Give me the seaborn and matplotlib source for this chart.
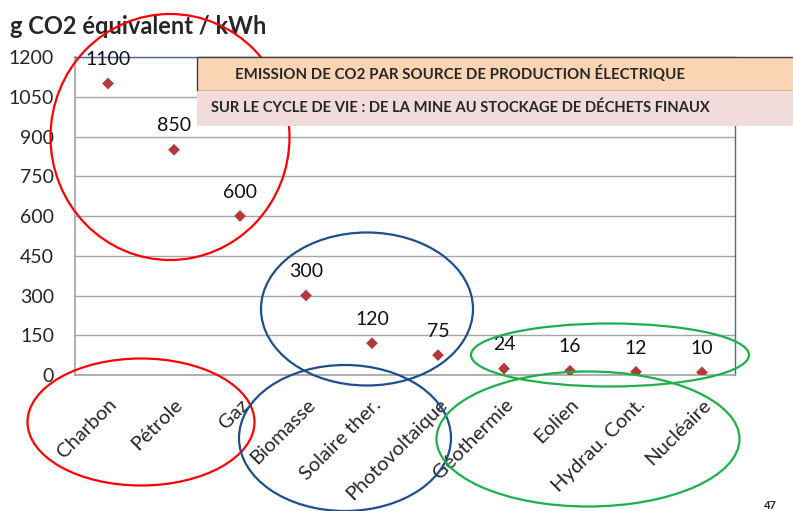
import matplotlib
matplotlib.use('Agg')
import matplotlib.pyplot as plt
from matplotlib.patches import Ellipse, Rectangle
import seaborn as sns
import pandas as pd

# data
sources = ['Charbon', 'Pétrole', 'Gaz', 'Biomasse', 'Solaire ther.', 'Photovoltaique',
           'Géothermie', 'Eolien', 'Hydrau. Cont.', 'Nucléaire']
emissions = [1100, 850, 600, 300, 120, 75, 24, 16, 12, 10]
y_ticks = [0, 150, 300, 450, 600, 750, 900, 1050, 1200]

W, H = 793, 511
sns.set_theme(style='white')
plt.rcParams['font.family'] = ['Lato', 'DejaVu Sans']

fig = plt.figure(figsize=(W / 100, H / 100), dpi=100)
ax = fig.add_axes([75 / W, 1 - 375 / H, 660 / W, 318 / H])

df = pd.DataFrame({'source': sources, 'g': emissions})
df['pos'] = range(len(df))
sns.scatterplot(data=df, x='pos', y='g', marker='D', s=36, color='#B23A3A',
                edgecolor='none', ax=ax, zorder=3)

for x, y in zip(df['pos'], df['g']):
    ax.annotate(str(y), (x, y), xytext=(0, 11), textcoords='offset points',
                ha='center', va='bottom', fontsize=14, color='#111111')

ax.set_xlim(-0.5, len(sources) - 0.5)
ax.set_ylim(0, 1200)
ax.set_yticks(y_ticks)
ax.set_xticks(range(len(sources)))
ax.set_xticks([i - 0.5 for i in range(len(sources) + 1)], minor=True)
ax.set_xticklabels(sources, rotation=45, ha='right', va='top', rotation_mode='anchor', fontsize=14.5)
ax.tick_params(axis='x', which='major', length=0, pad=15)
ax.tick_params(axis='x', which='minor', length=6, color='#A6A6A6', width=1, direction='out')
ax.tick_params(axis='y', length=5, color='#A6A6A6', labelsize=14, pad=10)
ax.yaxis.grid(True, color='#A6A6A6', lw=1)
ax.set_xlabel('')
ax.set_ylabel('')
for s in ['left', 'bottom']:
    ax.spines[s].set_color('#A6A6A6')
for s in ['top', 'right']:
    ax.spines[s].set_color('#4A6A9E')
    ax.spines[s].set_linewidth(1)

def fx(x):
    return x / W

def fy(y):
    return 1 - y / H

fig.text(fx(10), fy(34), 'g CO2 équivalent / kWh', fontsize=17, fontweight='bold',
         ha='left', va='baseline')

# title boxes
fig.add_artist(Rectangle((fx(197), fy(91)), fx(600), 34 / H, transform=fig.transFigure,
                         facecolor='#FBD4B4', edgecolor='#404040', lw=1, zorder=5))
fig.add_artist(Rectangle((fx(197), fy(126)), fx(600), 35 / H, transform=fig.transFigure,
                         facecolor='#F2DCDB', edgecolor='none', zorder=5))
fig.text(fx(460), fy(74), 'EMISSION DE CO2 PAR SOURCE DE PRODUCTION ÉLECTRIQUE', fontsize=10.8,
         fontweight='bold', ha='center', va='center', zorder=6)
fig.text(fx(460), fy(108), 'SUR LE CYCLE DE VIE : DE LA MINE AU STOCKAGE DE DÉCHETS FINAUX',
         fontsize=10.6, fontweight='bold', ha='center', va='center', zorder=6)

# hand-drawn group ellipses (pixel centres, widths, heights)
ellipses = [
    (170, 137, 239, 246, '#FF0000'),
    (141, 422, 227, 127, '#FF0000'),
    (367, 309, 212, 153, '#1F4E8C'),
    (345, 438, 212, 146, '#1F4E8C'),
    (610, 355, 278, 63, '#1DB04A'),
    (588, 439, 303, 135, '#1DB04A'),
]
for cx, cy, w, h, c in ellipses:
    fig.add_artist(Ellipse((cx / 100, (H - cy) / 100), w / 100, h / 100,
                           transform=fig.dpi_scale_trans, fill=False, edgecolor=c,
                           lw=1.6, zorder=4))

fig.text(fx(770), fy(505), '47', fontsize=8, fontweight='bold', ha='center', va='center')

fig.savefig('out.png', dpi=100)
